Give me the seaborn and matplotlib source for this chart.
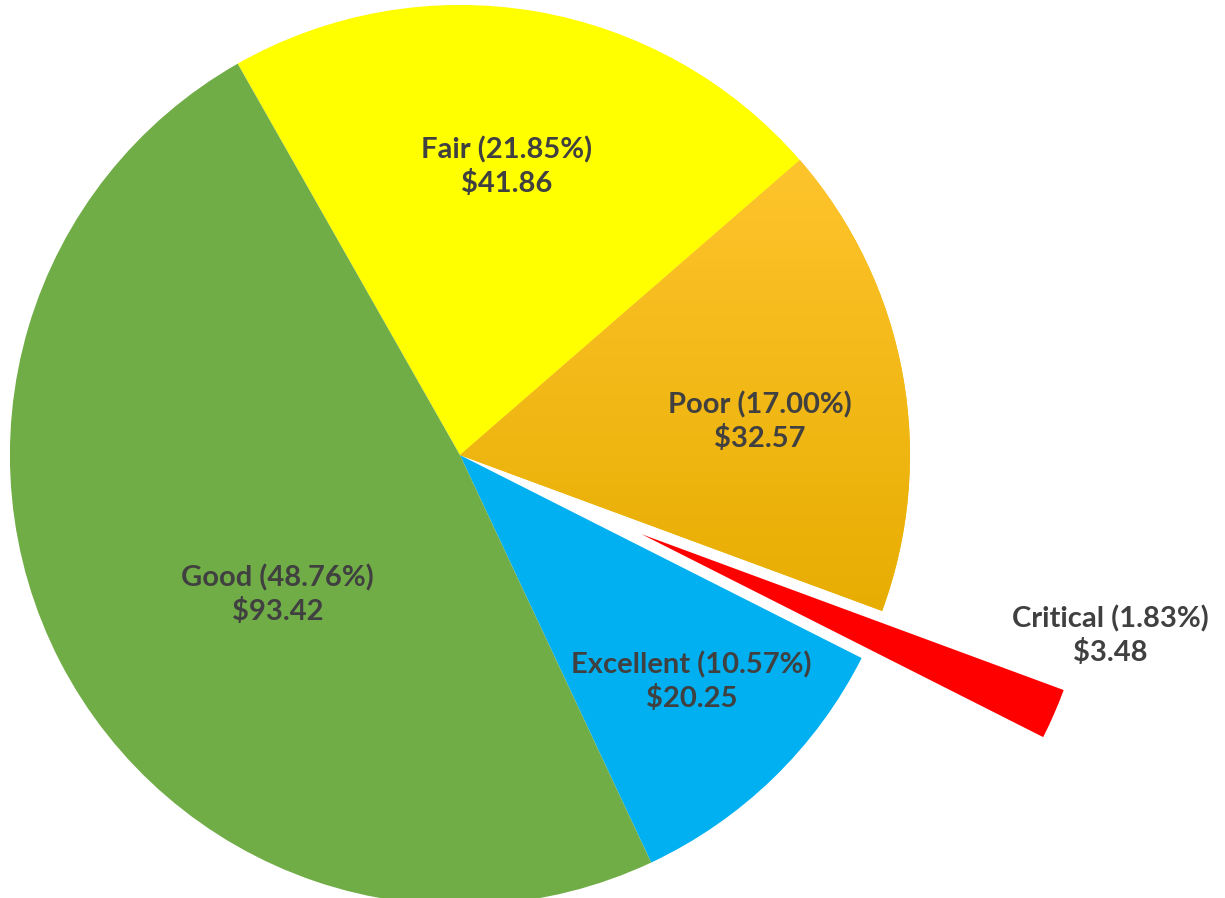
import matplotlib.pyplot as plt
import seaborn as sns
import numpy as np
from matplotlib.colors import LinearSegmentedColormap

categories = ['Fair', 'Poor', 'Critical', 'Excellent', 'Good']
values = [41.86, 32.57, 3.48, 20.25, 93.42]
percents = ['21.85%', '17.00%', '1.83%', '10.57%', '48.76%']
colors = ['#FFFF00', '#F7BE00', '#FF0000', '#00B0F0', '#70AD47']
explode = [0, 0, 0.44, 0, 0]

sns.set_theme(style='white')
plt.rcParams['font.family'] = ['Lato', 'DejaVu Sans']

fig = plt.figure(figsize=(12.25, 8.98), dpi=100)
ax = fig.add_axes([0, 0, 1, 1])
wedges, _ = ax.pie(values, colors=colors, explode=explode, startangle=119.6,
                   counterclock=False, radius=1, wedgeprops=dict(linewidth=0))
ax.set_aspect('equal')
ax.set_xlim(-1.022, 1.7)
ax.set_ylim(-0.984, 1.011)
ax.axis('off')

# soft vertical gradient on the Poor slice, like the original
poor = wedges[1]
grad = np.linspace(0, 1, 256).reshape(-1, 1)
cmap = LinearSegmentedColormap.from_list('poor', ['#E6AC00', '#FFC52E'])
im = ax.imshow(grad, cmap=cmap, extent=[0, 1, -0.4, 0.7], origin='lower',
               aspect='auto', zorder=poor.get_zorder() + 0.1)
im.set_clip_path(poor)
ax.set_xlim(-1.022, 1.7)
ax.set_ylim(-0.984, 1.011)

# where each label sits: distance from centre and angle shift from slice middle
label_r = [0.65, 0.67, 1.5, 0.72, 0.51]
label_da = [0.5, -4, 8, 1.5, 10]
for w, name, pct, val, r, da in zip(wedges, categories, percents, values, label_r, label_da):
    ang = np.deg2rad((w.theta1 + w.theta2) / 2 + da)
    ax.text(r * np.cos(ang), r * np.sin(ang), '{} ({})\n${:.2f}'.format(name, pct, val),
            ha='center', va='center', fontsize=21, fontweight='bold', color='#404040',
            linespacing=1.3, zorder=5)

fig.savefig('out.png', dpi=100)
